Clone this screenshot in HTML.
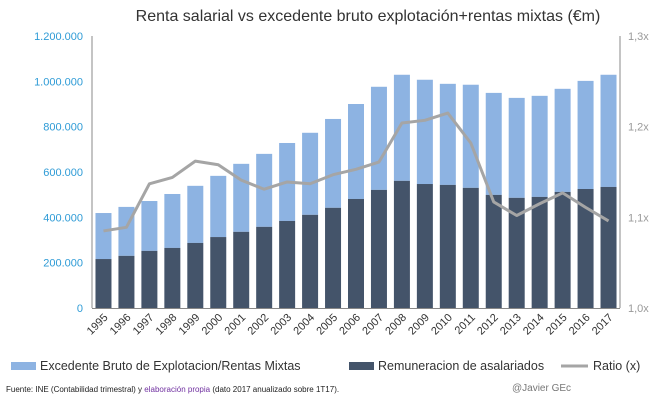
<!DOCTYPE html>
<html><head><meta charset="utf-8"><style>
body{margin:0;background:#fff;width:672px;height:400px;overflow:hidden;font-family:"Liberation Sans",sans-serif}
</style></head><body>
<svg id="c" width="672" height="400" style="position:absolute;left:0;top:0">
<text x="368" y="21" text-anchor="middle" font-size="16" fill="#333">Renta salarial vs excedente bruto explotación+rentas mixtas (€m)</text>
<g id="g"></g>
<g>
<rect x="11" y="362" width="25" height="8" fill="#8DB3E2"/>
<text x="40" y="370" font-size="12.5" fill="#333">Excedente Bruto de Explotacion/Rentas Mixtas</text>
<rect x="349" y="362" width="25" height="8" fill="#44546A"/>
<text x="378" y="370" font-size="12.5" fill="#333">Remuneracion de asalariados</text>
<line x1="561" y1="366" x2="588" y2="366" stroke="#A5A5A5" stroke-width="3"/>
<text x="593" y="370" font-size="12.5" fill="#333">Ratio (x)</text>
</g>
<text x="6" y="392" font-size="8" fill="#222">Fuente: INE (Contabilidad trimestral) y <tspan fill="#7030A0">elaboración propia</tspan> (dato 2017 anualizado sobre 1T17).</text>
<text x="512" y="391" font-size="10" fill="#777">@Javier GEc</text>
</svg>
<script>
const years=["1995","1996","1997","1998","1999","2000","2001","2002","2003","2004","2005","2006","2007","2008","2009","2010","2011","2012","2013","2014","2015","2016","2017"];
const remuneracion=[216,230,252,265,287,313,336,358,384,411,442,481,521,561,547,543,530,499,486,490,512,525,534];
const totalValues=[419,446,472,503,539,583,636,680,728,773,834,900,976,1029,1007,989,985,949,927,936,967,1002,1029];
const ratio=[1.085,1.089,1.137,1.144,1.162,1.158,1.141,1.131,1.139,1.137,1.147,1.153,1.161,1.204,1.207,1.215,1.182,1.117,1.102,1.115,1.127,1.111,1.096];
const leftTicks=[0,200,400,600,800,1000,1200];
const leftTickLabels=["0","200.000","400.000","600.000","800.000","1.000.000","1.200.000"];
const rightTicks=[1.0,1.1,1.2,1.3];
const rightTickLabels=["1,0x","1,1x","1,2x","1,3x"];
const X0=92,X1=620,Y0=308,YT=36;
const bw=(X1-X0)/years.length;
const yL=v=>Y0-(v/1200)*(Y0-YT);
const yR=v=>Y0-((v-1.0)/0.3)*(Y0-YT);
const xC=i=>X0+bw*(i+0.5);
const ns="http://www.w3.org/2000/svg",g=document.getElementById('g');
function mk(t,a){const e=document.createElementNS(ns,t);for(const k in a)e.setAttribute(k,a[k]);g.appendChild(e);return e;}
leftTicks.forEach((v,i)=>{const t=mk('text',{x:83,y:yL(v)+4,'text-anchor':'end','font-size':11,fill:'#2E9BD6'});t.textContent=leftTickLabels[i];

});
rightTicks.forEach((v,i)=>{const t=mk('text',{x:628,y:yR(v)+4,'font-size':11,fill:'#999'});t.textContent=rightTickLabels[i];

});
years.forEach((y,i)=>{
const x=xC(i)-8;
const r1=mk('rect',{x:x,y:yL(totalValues[i]),width:16,height:yL(remuneracion[i])-yL(totalValues[i]),fill:'#8DB3E2'});


const r2=mk('rect',{x:x,y:yL(remuneracion[i]),width:16,height:Y0-yL(remuneracion[i]),fill:'#44546A'});


const tx=xC(i)+5,ty=Y0+10;
const t=mk('text',{x:tx,y:ty,'text-anchor':'end','font-size':11,fill:'#333',transform:`rotate(-45 ${tx} ${ty})`});t.textContent=y;


});
const pl=mk('polyline',{points:ratio.map((v,i)=>xC(i)+','+yR(v)).join(' '),fill:'none',stroke:'#A5A5A5','stroke-width':3,'stroke-linejoin':'round'});


const a1=mk('line',{x1:X0,y1:YT,x2:X0,y2:Y0,stroke:'#888','stroke-width':1});


const a2=mk('line',{x1:X1,y1:YT,x2:X1,y2:Y0,stroke:'#888','stroke-width':1});


const a3=mk('line',{x1:X0,y1:Y0+0.5,x2:X1,y2:Y0+0.5,stroke:'#888','stroke-width':1});


</script>
</body></html>
